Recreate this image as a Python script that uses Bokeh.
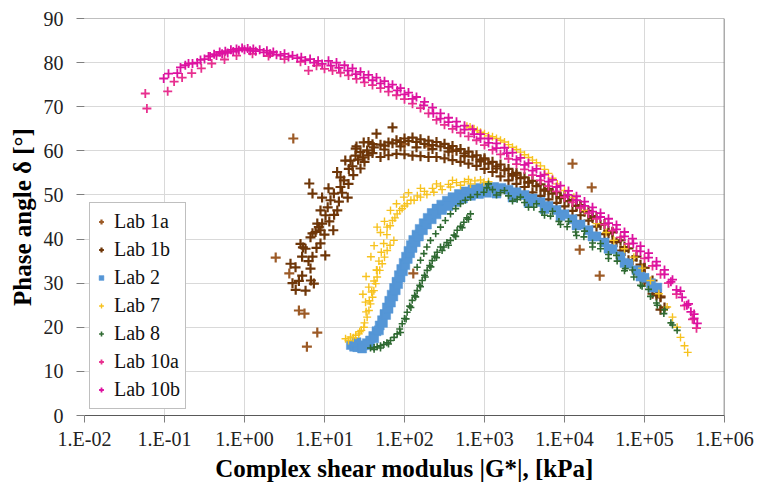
from bokeh.plotting import figure
from bokeh.models import Range1d, FixedTicker, CustomJSTickFormatter, Span, ColumnDataSource
from bokeh.embed import file_html
from bokeh.resources import INLINE

# ---------------- data: (log10 |G*| [kPa], phase angle [deg]) ----------------
x_ticks = [1e-2, 1e-1, 1e0, 1e1, 1e2, 1e3, 1e4, 1e5, 1e6]
y_ticks = [0, 10, 20, 30, 40, 50, 60, 70, 80, 90]

lab1a = [(0.61, 62.8), (0.39, 35.8), (0.68, 23.8), (0.75, 23.1), (0.78, 15.6), (0.91, 18.8),
         (0.56, 32.2), (2.11, 32.2), (4.10, 57.1), (4.34, 51.7), (4.19, 37.6), (4.44, 31.7),
         (2.0, 61.5), (2.3, 61.0), (2.6, 60.2), (3.0, 58.0), (3.4, 54.5), (3.8, 51.0),
         (4.2, 47.5), (4.6, 41.5), (5.0, 33.5), (5.2, 27.0)]

lab1b = [(0.575, 34.4), (0.638, 33.6), (0.721, 31.7), (0.825, 33.3), (0.867, 29.9), (0.763, 28.3),
         (0.700, 38.9), (0.763, 37.8), (0.825, 40.4), (0.888, 41.6), (0.929, 42.7), (0.971, 43.5),
         (1.013, 45.4), (0.950, 46.5), (1.075, 48.8), (1.117, 50.3), (1.200, 51.8), (1.242, 53.3),
         (1.158, 55.2), (1.304, 55.9), (1.325, 57.8), (1.388, 58.9), (1.450, 59.7), (1.533, 60.1),
         (1.617, 60.8), (0.81, 52.6), (0.85, 50.3), (0.97, 49.4), (1.05, 51.5), (1.04, 47.2),
         (0.91, 43.5), (0.85, 41.3), (0.95, 39.0), (1.01, 36.3), (1.11, 42.0), (1.26, 57.8),
         (1.20, 54.0), (1.29, 49.4), (1.16, 46.5), (1.39, 60.5), (1.49, 61.9), (1.65, 63.9),
         (1.85, 65.3), (0.73, 38.1), (0.83, 30.6),
         (1.35, 56.5), (1.42, 58.0), (1.48, 58.5), (1.55, 59.0), (1.60, 59.5), (1.40, 61.0),
         (1.55, 62.0), (1.60, 61.5), (1.50, 57.5), (1.45, 56.0), (1.36, 54.5), (1.30, 52.5),
         (1.22, 50.5), (1.18, 48.5), (1.12, 45.5), (1.06, 44.0), (1.00, 41.0), (0.95, 42.0),
         (0.90, 38.0), (0.85, 36.0), (0.80, 35.0), (0.72, 36.0), (0.68, 30.5), (0.64, 28.5),
         (0.60, 30.0),
         # upper edge of band
         (1.7, 61.4), (1.8, 61.9), (1.9, 62.4), (2.0, 62.8), (2.1, 63.0), (2.2, 62.6), (2.3, 62.3),
         (2.4, 62.0), (2.5, 61.6), (2.6, 61.1), (2.7, 60.4), (2.8, 59.8), (2.9, 59.0), (3.0, 58.3),
         (3.1, 57.5), (3.2, 56.9), (3.3, 55.9), (3.4, 55.0), (3.5, 54.0), (3.6, 53.2), (3.7, 52.4),
         (3.8, 51.4), (3.9, 50.6), (4.0, 49.8), (4.1, 48.9), (4.2, 47.7), (4.3, 46.4), (4.4, 45.0),
         (4.5, 43.4), (4.6, 41.6), (4.7, 39.7), (4.8, 37.9), (4.9, 36.0), (5.0, 33.5), (5.1, 30.6),
         (5.2, 26.8), (5.25, 24.5),
         # upper-middle
         (1.75, 61.2), (1.85, 61.7), (1.95, 62.0), (2.05, 62.2), (2.15, 62.0), (2.25, 61.6),
         (2.35, 61.3), (2.45, 61.0), (2.55, 60.6), (2.65, 60.0), (2.75, 59.4), (2.85, 58.7),
         (2.95, 58.0), (3.05, 57.1), (3.15, 56.5), (3.25, 55.6), (3.35, 54.7), (3.45, 53.8),
         (3.55, 52.9), (3.65, 52.0), (3.75, 51.2), (3.85, 50.3), (3.95, 49.5), (4.05, 48.6),
         (4.15, 47.5), (4.25, 46.2), (4.35, 44.8), (4.45, 43.2), (4.55, 41.3), (4.65, 39.3),
         (4.75, 37.3), (4.85, 35.2), (4.95, 32.8), (5.05, 30.2), (5.15, 27.2),
         # middle of band
         (1.75, 60.3), (1.95, 61.0), (2.15, 60.8), (2.35, 60.4), (2.55, 59.8), (2.75, 58.8),
         (2.95, 57.6), (3.15, 56.0), (3.35, 54.4), (3.55, 52.8), (3.75, 51.0), (3.95, 49.3),
         (4.15, 47.5), (4.35, 45.2), (4.55, 41.8), (4.75, 38.2), (4.95, 34.2), (5.15, 28.5),
         # lower edge of band
         (1.7, 58.6), (1.8, 59.0), (1.9, 59.3), (2.0, 59.2), (2.1, 58.9), (2.2, 58.8), (2.3, 58.6),
         (2.4, 58.6), (2.5, 58.3), (2.6, 57.9), (2.7, 57.5), (2.8, 57.1), (2.9, 56.6), (3.0, 55.9),
         (3.1, 55.2), (3.2, 54.2), (3.3, 53.3), (3.4, 52.5), (3.5, 51.8), (3.6, 50.6), (3.7, 49.8),
         (3.8, 49.0), (3.9, 48.2), (4.0, 47.4), (4.1, 46.4), (4.2, 45.4), (4.3, 44.2), (4.4, 42.8),
         (4.5, 41.1), (4.6, 39.4), (4.7, 37.4), (4.8, 35.2), (4.9, 32.8), (5.0, 30.4), (5.1, 27.6),
         (5.2, 24.0)]

lab2 = [(1.33, 16.0), (1.37, 15.6), (1.41, 15.5), (1.45, 15.6), (1.49, 15.9), (1.53, 16.4),
        (1.57, 17.0), (1.61, 18.0), (1.65, 19.1), (1.69, 20.4), (1.72, 21.6), (1.75, 23.0),
        (1.78, 24.5), (1.81, 26.0), (1.84, 27.4), (1.87, 28.9), (1.90, 30.3), (1.93, 31.8),
        (1.96, 33.2), (1.99, 34.6), (2.02, 36.0), (2.05, 37.3), (2.08, 38.6), (2.11, 39.8),
        (2.15, 41.0), (2.19, 42.3), (2.24, 43.6), (2.29, 44.8), (2.34, 45.9), (2.40, 46.9),
        (2.46, 47.8), (2.53, 48.7), (2.60, 49.5), (2.68, 50.2), (2.76, 50.8), (2.85, 51.3),
        (2.94, 51.6), (3.03, 51.8), (3.12, 51.8), (3.21, 51.6), (3.30, 51.2), (3.40, 50.6),
        (3.50, 50.0), (3.60, 49.2), (3.70, 48.4), (3.80, 47.5), (3.90, 46.6), (4.00, 45.6),
        (4.10, 44.5), (4.20, 43.3), (4.30, 42.0), (4.40, 40.6), (4.50, 39.2), (4.60, 37.7),
        (4.70, 36.1), (4.80, 34.4), (4.90, 32.9), (5.00, 31.2), (5.08, 30.0), (5.16, 29.0),
        (1.40, 16.6), (1.47, 15.2), (1.55, 16.0), (1.62, 17.5), (1.68, 19.3), (1.73, 21.0),
        (1.77, 22.8), (1.80, 24.2), (1.83, 25.6), (1.86, 27.0), (1.89, 28.4), (1.92, 29.8),
        (1.95, 31.3), (1.98, 32.7), (2.01, 34.1), (2.04, 35.5), (2.07, 36.8), (2.10, 38.0),
        (2.14, 39.3), (2.18, 40.6), (2.23, 42.0), (2.28, 43.3), (2.34, 44.5), (2.40, 45.6),
        (2.47, 46.6), (2.55, 47.5), (2.64, 48.4), (2.73, 49.2), (2.83, 49.8), (2.93, 50.2),
        (3.03, 50.5), (3.15, 50.3), (3.35, 49.4), (3.55, 48.2), (3.75, 46.8), (3.95, 45.2),
        (4.15, 43.1), (4.35, 40.6), (4.55, 37.8), (4.75, 34.6), (4.95, 31.5), (5.10, 29.0)]

lab7 = [(1.263, 17.4), (1.325, 17.8), (1.39, 18.2), (1.429, 18.5), (1.46, 19.3), (1.492, 20.0),
        (1.533, 22.3), (1.555, 23.8), (1.575, 25.3), (1.60, 26.8), (1.617, 28.3), (1.64, 29.9),
        (1.658, 31.4), (1.69, 32.9), (1.721, 34.4), (1.75, 35.9), (1.783, 37.4), (1.82, 38.6),
        (1.867, 39.7), (1.783, 42.7), (1.85, 44.2), (1.908, 45.7), (1.97, 46.9), (2.033, 48.0),
        (2.12, 48.8), (2.2, 49.5), (2.28, 50.1), (2.367, 50.6), (2.47, 51.2), (2.575, 51.8),
        (2.70, 52.2), (2.825, 52.5), (2.992, 52.9), (1.658, 42.7), (1.825, 46.5), (1.992, 49.5),
        (1.513, 25.7), (1.554, 29.1), (1.658, 32.9),
        (1.30, 17.0), (1.36, 17.6), (1.44, 19.0), (1.50, 21.0), (1.52, 23.5), (1.56, 26.0),
        (1.59, 28.0), (1.62, 30.5), (1.65, 33.0), (1.68, 35.0), (1.71, 37.0), (1.74, 39.0),
        (1.78, 41.0), (1.82, 43.0), (1.88, 44.8), (1.94, 46.5), (2.00, 47.5), (2.08, 48.8),
        (2.16, 49.8), (2.25, 50.8), (2.35, 51.5), (2.45, 52.0), (2.55, 52.4), (2.65, 52.8),
        (2.75, 53.0), (2.88, 53.2), (2.95, 53.4), (3.05, 53.0),
        (1.58, 36.0), (1.62, 38.5), (1.70, 41.5), (1.75, 44.0), (1.90, 48.0), (2.05, 50.5),
        (2.20, 51.5), (2.40, 52.5), (2.60, 53.3), (2.80, 53.5), (1.48, 27.5), (1.52, 31.5),
        (2.78, 65.6), (2.87, 65.0), (2.95, 64.2), (3.05, 63.4), (3.15, 62.8), (3.25, 62.0),
        (3.35, 60.8), (3.45, 59.7), (3.55, 58.5), (3.65, 57.3), (3.75, 55.8), (3.85, 53.8),
        (2.82, 65.4), (2.91, 64.6), (3.00, 63.9), (3.10, 63.2), (3.20, 62.4), (3.30, 61.4),
        (3.40, 60.3), (3.50, 59.1), (3.60, 57.9), (3.70, 56.6), (3.80, 54.9),
        (3.91, 52.5), (4.0, 51.0), (4.117, 49.5), (4.25, 46.5), (4.4, 43.5), (4.52, 41.5),
        (4.617, 39.7), (4.75, 37.8), (4.867, 35.9), (4.97, 33.4), (5.075, 30.6), (5.18, 27.6),
        (5.283, 24.6), (5.35, 22.3), (5.408, 20.0), (5.45, 17.7), (5.50, 15.8), (5.54, 14.3)]

lab8 = [(1.575, 15.3), (1.62, 15.4), (1.658, 15.6), (1.70, 15.8), (1.742, 16.1), (1.78, 16.5),
        (1.825, 17.0), (1.87, 17.7), (1.908, 18.5), (1.94, 19.6), (1.971, 20.8), (2.00, 22.0),
        (2.033, 23.4), (2.065, 24.8), (2.096, 26.1), (2.127, 27.2), (2.158, 28.3), (2.19, 29.5),
        (2.221, 30.6), (2.25, 31.8), (2.283, 32.9), (2.315, 34.0), (2.346, 35.1), (2.378, 36.1),
        (2.408, 37.0), (2.45, 38.2), (2.492, 38.2), (2.53, 39.2), (2.575, 39.7), (2.62, 40.9),
        (2.658, 42.0), (2.70, 42.9), (2.742, 43.8), (2.78, 44.8), (2.825, 45.7),
        (1.62, 15.0), (1.70, 15.3), (1.80, 16.2), (1.95, 18.8), (2.02, 21.9), (2.08, 24.5),
        (2.14, 26.9), (2.20, 29.2), (2.26, 31.4), (2.33, 33.7), (2.40, 35.8), (2.47, 37.4),
        (2.55, 38.6), (2.64, 40.6), (2.72, 42.6), (2.80, 44.5),
        (2.158, 33.6), (2.20, 35.2), (2.242, 36.7), (2.28, 38.2), (2.325, 39.7), (2.39, 41.2),
        (2.45, 42.7), (2.51, 44.2), (2.575, 45.7), (2.64, 46.9), (2.70, 48.0), (2.76, 48.8),
        (2.825, 49.5), (2.91, 50.1), (2.992, 50.6),
        (3.03, 51.6), (3.1, 51.2), (3.2, 50.5), (3.3, 49.8), (3.408, 49.0), (3.5, 48.3),
        (3.617, 47.2), (3.72, 46.2), (3.825, 45.2), (3.93, 44.0), (4.033, 42.8), (4.14, 41.6),
        (4.242, 40.5), (4.35, 39.1), (4.45, 37.8), (4.55, 36.5), (4.658, 35.0), (4.76, 33.3),
        (4.867, 31.4), (4.97, 29.3), (5.075, 27.0), (5.16, 25.0), (5.242, 23.1), (5.33, 21.0),
        (5.408, 19.3),
        (3.05, 52.5), (3.25, 51.0), (3.45, 49.5), (3.65, 48.0), (3.85, 46.3), (4.05, 44.0),
        (4.25, 41.8), (4.45, 39.0), (4.65, 36.3), (4.85, 33.0), (5.05, 28.6), (5.25, 24.0),
        (3.15, 50.0), (3.35, 48.6), (3.55, 47.2), (3.75, 45.4), (3.95, 43.3), (4.15, 40.8),
        (4.35, 38.2), (4.55, 35.6), (4.75, 32.8), (4.95, 29.5), (5.15, 25.5), (5.35, 20.5)]

lab10a = [(-1.24, 73.0), (-1.22, 69.6), (-0.96, 73.5), (-0.88, 75.7), (-0.78, 76.6), (-0.66, 77.6),
          (-0.54, 78.7), (-0.41, 79.8), (-0.25, 80.7), (-0.10, 81.6), (0.10, 82.0), (0.30, 81.5),
          (0.5, 80.8), (0.7, 80.2), (0.8, 78.2), (0.9, 79.3),
          (1.0, 78.6), (1.1, 78.2), (1.2, 77.7), (1.3, 77.1), (1.4, 76.3), (1.5, 75.5), (1.6, 74.9),
          (1.7, 74.2), (1.8, 73.4), (1.9, 72.6), (2.0, 71.7), (2.1, 70.7), (2.2, 69.7), (2.3, 68.5),
          (2.4, 67.0), (2.5, 65.9), (2.6, 65.0), (2.7, 64.1), (2.8, 63.3), (2.9, 62.4), (3.0, 61.3),
          (3.1, 60.2), (3.2, 59.2), (3.3, 58.2), (3.4, 57.0), (3.5, 55.8), (3.6, 54.5), (3.7, 53.3),
          (3.8, 52.0), (3.9, 50.8), (4.0, 49.5), (4.1, 48.3), (4.2, 47.1), (4.3, 45.8), (4.4, 44.6),
          (4.5, 43.3), (4.6, 41.9), (4.7, 40.4), (4.8, 38.9), (4.9, 37.3), (5.0, 35.6), (5.1, 33.9),
          (5.2, 32.0), (5.3, 30.0), (5.4, 27.5), (5.5, 24.9), (5.6, 21.8), (5.65, 19.8)]

lab10b = [(-1.01, 76.4), (-0.84, 77.6), (-0.74, 79.4), (-0.65, 79.8), (-0.59, 80.0), (-0.50, 80.8),
          (-0.43, 81.4), (-0.35, 81.6), (-0.28, 82.0), (-0.21, 82.2), (-0.14, 82.5), (-0.07, 82.8),
          (0.00, 82.9), (0.07, 82.7), (0.14, 82.6), (0.24, 82.3), (0.32, 82.0), (0.40, 81.8),
          (0.45, 81.6), (0.55, 81.3), (0.66, 81.0), (0.76, 80.5), (0.87, 80.0), (0.97, 79.7),
          (1.08, 79.3), (1.18, 78.8), (1.29, 78.2), (1.39, 77.4), (1.49, 76.6), (1.60, 76.0),
          (1.70, 75.3), (1.80, 74.5), (1.91, 73.7), (2.00, 72.8), (2.10, 71.8), (2.24, 70.3),
          (2.36, 68.5), (2.45, 67.3), (2.55, 66.5), (2.65, 65.5), (2.75, 64.8), (2.87, 63.8),
          (2.95, 62.8), (3.05, 61.8), (3.15, 60.6), (3.28, 59.5), (3.40, 58.0), (3.50, 56.8),
          (3.60, 55.5), (3.70, 54.3), (3.80, 53.0), (3.90, 51.8), (4.04, 50.0), (4.15, 48.8),
          (4.25, 47.5), (4.35, 46.2), (4.45, 45.0), (4.55, 43.6), (4.65, 42.2), (4.75, 40.6),
          (4.86, 39.0), (4.95, 37.2), (5.05, 35.8), (5.15, 34.0), (5.25, 32.0), (5.33, 30.3),
          (5.40, 28.5), (5.47, 26.8), (5.53, 25.0), (5.58, 23.5), (5.62, 22.0), (5.66, 20.9),
          (-0.95, 77.5), (-0.80, 78.9), (-0.70, 79.8), (-0.55, 80.6), (-0.45, 81.4), (-0.38, 81.9),
          (-0.31, 82.4), (-0.24, 82.6), (-0.17, 82.9), (-0.10, 83.1), (-0.03, 83.3), (0.04, 83.2),
          (0.11, 83.1), (0.19, 82.9), (0.28, 82.7), (0.36, 82.4), (0.50, 82.0), (0.60, 81.6),
          (0.71, 81.2), (0.82, 80.8), (0.92, 80.4),
          (1.05, 80.4), (1.15, 80.0), (1.25, 79.4), (1.35, 78.7), (1.45, 77.9), (1.55, 77.2),
          (1.65, 76.6), (1.75, 75.8), (1.85, 75.0), (1.95, 74.2), (2.05, 73.2), (2.15, 72.2),
          (2.25, 71.1), (2.35, 69.8), (2.45, 68.5), (2.55, 67.5), (2.65, 66.6), (2.75, 65.7),
          (2.85, 64.9), (2.95, 63.8), (3.05, 62.8), (3.15, 61.7), (3.25, 60.7), (3.35, 59.6),
          (3.45, 58.4), (3.55, 57.2), (3.65, 55.9), (3.75, 54.6), (3.85, 53.4), (3.95, 52.1),
          (4.05, 50.9), (4.15, 49.7), (4.25, 48.5), (4.35, 47.2), (4.45, 45.9), (4.55, 44.6),
          (4.65, 43.2), (4.75, 41.6), (4.85, 40.1), (4.95, 38.4), (5.05, 36.8), (5.15, 34.9),
          (5.25, 33.0), (5.35, 30.8), (5.45, 28.2), (5.55, 25.3), (5.62, 23.0)]

series = [
    ("Lab 1a", lab1a, "cross", "#9C5A26", 10, 2.2),
    ("Lab 1b", lab1b, "cross", "#6E3608", 10, 2.2),
    ("Lab 2", lab2, "square", "#5596D6", 9, 0.0),
    ("Lab 7", lab7, "cross", "#F7C21E", 8, 1.4),
    ("Lab 8", lab8, "cross", "#2F6A32", 7, 1.6),
    ("Lab 10a", lab10a, "cross", "#E8308F", 9, 1.8),
    ("Lab 10b", lab10b, "cross", "#DD12A0", 9, 1.8),
]

SERIF = "Liberation Serif"

p = figure(width=762, height=489, x_axis_type="log",
           x_range=Range1d(1e-2, 1e6), y_range=Range1d(0, 90),
           output_backend="svg", toolbar_location=None,
           min_border_left=84, min_border_right=38, min_border_top=18, min_border_bottom=74)
p.outline_line_color = None
p.background_fill_color = "white"

for name, pts, marker, color, size, lw in series:
    src = ColumnDataSource(dict(g=[10 ** lg for lg, d in pts], d=[d for lg, d in pts]))
    if marker == "square":
        p.scatter("g", "d", source=src, marker="square", size=size, fill_color=color,
                  line_color=color, line_width=0.5, legend_label=name)
    else:
        p.scatter("g", "d", source=src, marker=marker, size=size, line_color=color,
                  line_width=lw, legend_label=name)

# axes
p.xaxis.ticker = FixedTicker(ticks=x_ticks, minor_ticks=[])
p.xaxis.formatter = CustomJSTickFormatter(code="""
const e = Math.round(Math.log10(tick));
const a = Math.abs(e);
return "1.E" + (e < 0 ? "-" : "+") + (a < 10 ? "0" : "") + a;
""")
p.yaxis.ticker = FixedTicker(ticks=y_ticks, minor_ticks=[])

p.xaxis.major_label_text_font = SERIF
p.yaxis.major_label_text_font = SERIF
p.xaxis.major_label_text_font_size = "20px"
p.yaxis.major_label_text_font_size = "20px"
p.xaxis.major_label_text_color = "#222222"
p.yaxis.major_label_text_color = "#222222"
p.xaxis.axis_label_text_font = SERIF
p.yaxis.axis_label_text_font = SERIF
p.xaxis.axis_label_text_font_size = "25px"
p.yaxis.axis_label_text_font_size = "25px"
p.xaxis.axis_label_text_font_style = "bold"
p.yaxis.axis_label_text_font_style = "bold"
p.xaxis.axis_label_text_color = "#000000"
p.yaxis.axis_label_text_color = "#000000"
p.xaxis.minor_tick_line_color = None
p.yaxis.minor_tick_line_color = None
p.xaxis.major_tick_line_color = "#7f7f7f"
p.yaxis.major_tick_line_color = "#7f7f7f"
p.xaxis.major_tick_in = 0
p.yaxis.major_tick_in = 0

p.xaxis.axis_label = "Complex shear modulus |G*|, [kPa]"
p.yaxis.axis_label = "Phase angle δ [°]"
p.xaxis.axis_line_color = "#595959"
p.xaxis.major_tick_out = 7
p.xaxis.major_label_standoff = 5
p.xaxis.axis_label_standoff = 2
p.yaxis.axis_line_color = None
p.yaxis.major_tick_out = 8
p.yaxis.major_label_standoff = 13
p.yaxis.axis_label_standoff = 5

p.xgrid.grid_line_color = "#d9d9d9"
p.ygrid.grid_line_color = "#d9d9d9"

p.add_layout(Span(location=90, dimension="width", line_color="#808080", line_width=1))
p.add_layout(Span(location=1e6, dimension="height", line_color="#595959", line_width=1.5))

p.legend.location = (5, 6)
p.legend.border_line_color = "#7f7f7f"
p.legend.border_line_width = 1
p.legend.background_fill_color = "white"
p.legend.background_fill_alpha = 1
p.legend.label_text_font = SERIF
p.legend.label_text_font_size = "20px"
p.legend.label_text_color = "#111111"
p.legend.label_height = 27
p.legend.glyph_height = 27
p.legend.glyph_width = 12
p.legend.spacing = 1
p.legend.padding = 5
p.legend.margin = 0
p.legend.label_standoff = 7

open("out.html", "w").write(file_html(p, INLINE))
